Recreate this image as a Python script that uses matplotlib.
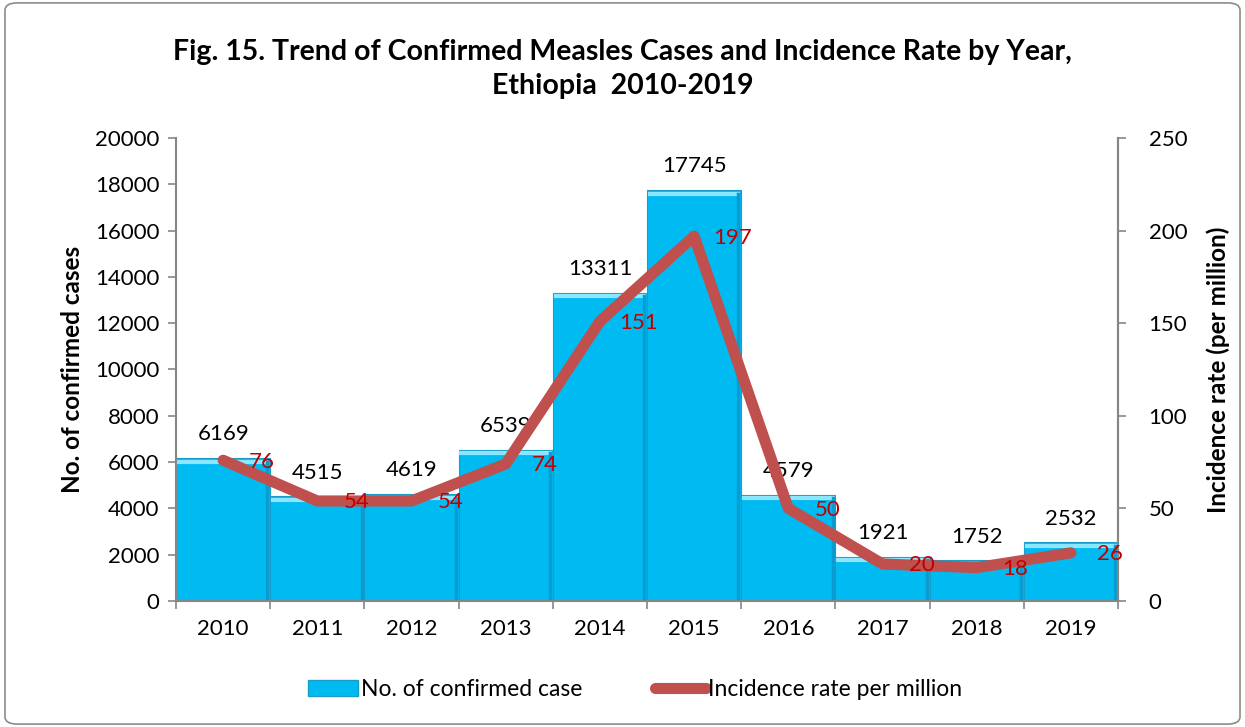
import matplotlib.pyplot as plt
from matplotlib.patches import Rectangle, FancyBboxPatch
from matplotlib.lines import Line2D

plt.rcParams['font.family'] = ['Lato', 'DejaVu Sans']

years = [2010, 2011, 2012, 2013, 2014, 2015, 2016, 2017, 2018, 2019]
cases = [6169, 4515, 4619, 6539, 13311, 17745, 4579, 1921, 1752, 2532]
incidence = [76, 54, 54, 74, 151, 197, 50, 20, 18, 26]

bar_color = "#00BBF2"
line_color = "#C0504D"
axis_grey = "#868686"

fig = plt.figure(figsize=(12.45, 7.27), dpi=100)
ax = fig.add_axes([0.1414, 0.1733, 0.7566, 0.6369])

# bars, no gap, with a simple bevel look
ax.bar(years, cases, width=1.0, color=bar_color, edgecolor="#1A9CC8", linewidth=0.8, zorder=2)
for x, c in zip(years, cases):
    ax.plot([x - 0.47, x + 0.47], [c - 150, c - 150], color="#8BE6FF", lw=3, zorder=3)
    ax.plot([x + 0.47, x + 0.47], [150, c - 150], color="#0A9BD0", lw=2.5, zorder=3)

ax.set_xlim(2009.5, 2019.5)
ax.set_ylim(0, 20000)
ax.set_yticks(range(0, 20001, 2000))
ax.set_xticks(years)
ax.set_xticks([y + 0.5 for y in [2009] + years], minor=True)
ax.tick_params(axis="x", which="major", length=0, pad=13, labelsize=16)
ax.tick_params(axis="x", which="minor", length=6, color=axis_grey, width=1.2)
ax.tick_params(axis="y", length=6, color=axis_grey, width=1.2, labelsize=16, pad=6)
ax.spines["top"].set_visible(False)
for s in ["left", "right", "bottom"]:
    ax.spines[s].set_color(axis_grey)
    ax.spines[s].set_linewidth(1.5)
ax.set_ylabel("No. of confirmed cases", fontsize=17.5, fontweight="bold", labelpad=8)

for x, c in zip(years, cases):
    ax.annotate(str(c), (x, c), xytext=(0, 10), textcoords="offset points",
                ha="center", va="bottom", fontsize=16, color="black", zorder=5)

ax2 = ax.twinx()
ax2.set_ylim(0, 250)
ax2.set_yticks(range(0, 251, 50))
ax2.plot(years, incidence, color=line_color, lw=8, solid_capstyle="round",
         solid_joinstyle="round", zorder=4)
for x, v in zip(years, incidence):
    ax2.annotate(str(v), (x, v), xytext=(28, -1), textcoords="offset points",
                 ha="center", va="center", fontsize=16, color="#C00000", zorder=6)
ax2.tick_params(axis="y", length=6, color=axis_grey, width=1.2, labelsize=16, pad=16)
for s in ["top", "left", "bottom"]:
    ax2.spines[s].set_visible(False)
ax2.spines["right"].set_color(axis_grey)
ax2.spines["right"].set_linewidth(1.5)
ax2.set_ylabel("Incidence rate (per million)", fontsize=17.5, fontweight="bold", labelpad=14)

fig.text(0.5, 0.905, "Fig. 15. Trend of Confirmed Measles Cases and Incidence Rate by Year,\nEthiopia  2010-2019",
         ha="center", va="center", fontsize=20.5, fontweight="bold", linespacing=1.35)

handles = [Rectangle((0, 0), 1, 1, facecolor=bar_color, edgecolor="#1A9CC8"),
           Line2D([0], [0], color=line_color, lw=8, solid_capstyle="round")]
fig.legend(handles, ["No. of confirmed case", "Incidence rate per million"],
           loc="center", bbox_to_anchor=(0.51, 0.051), ncol=2, frameon=False,
           fontsize=16.5, handlelength=2.2, handletextpad=0.1, columnspacing=3.2)

border = FancyBboxPatch((0.004, 0.004), 0.992, 0.992, boxstyle="round,pad=0,rounding_size=0.01",
                        transform=fig.transFigure, fill=False, edgecolor="#8C8C8C", lw=1.2)
fig.patches.append(border)

fig.savefig("out.png", dpi=100)
